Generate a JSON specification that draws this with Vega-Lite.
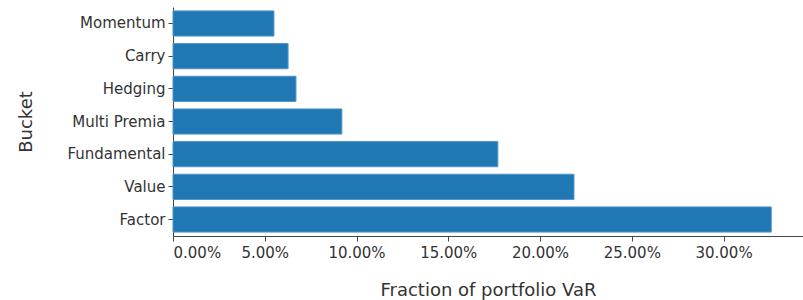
{
  "$schema": "https://vega.github.io/schema/vega-lite/v6.json",
  "autosize": {"type": "none"},
  "width": 630,
  "height": 229,
  "padding": {"left": 173, "top": 7, "right": 0, "bottom": 64},
  "background": "white",
  "config": {
    "font": "DejaVu Sans",
    "view": {"stroke": null},
    "axis": {"labelFont": "DejaVu Sans", "titleFont": "DejaVu Sans", "labelColor": "#333", "titleColor": "#333", "domainColor": "#444", "tickColor": "#444", "grid": false, "labelFontSize": 15, "titleFontSize": 18, "titleFontWeight": "normal", "tickSize": 5}
  },
  "data": {
    "values": [
      {"bucket": "Momentum", "fraction": 0.055},
      {"bucket": "Carry", "fraction": 0.0627},
      {"bucket": "Hedging", "fraction": 0.067},
      {"bucket": "Multi Premia", "fraction": 0.092},
      {"bucket": "Fundamental", "fraction": 0.177},
      {"bucket": "Value", "fraction": 0.2185},
      {"bucket": "Factor", "fraction": 0.326}
    ]
  },
  "mark": {"type": "bar", "fill": "#1f77b4", "stroke": "#4f93c8", "strokeWidth": 1},
  "encoding": {
    "y": {
      "field": "bucket", "type": "nominal", "title": "Bucket",
      "sort": {"field": "fraction", "order": "ascending"},
      "scale": {"paddingInner": 0.23, "paddingOuter": 0.12},
      "axis": {"titlePadding": 31, "labelPadding": 3}
    },
    "x": {
      "field": "fraction", "type": "quantitative", "title": "Fraction of portfolio VaR",
      "scale": {"domain": [0, 0.3433], "nice": false},
      "axis": {"format": ".2%", "values": [0, 0.05, 0.1, 0.15, 0.2, 0.25, 0.3], "titlePadding": 21, "labelPadding": 4}
    }
  }
}
